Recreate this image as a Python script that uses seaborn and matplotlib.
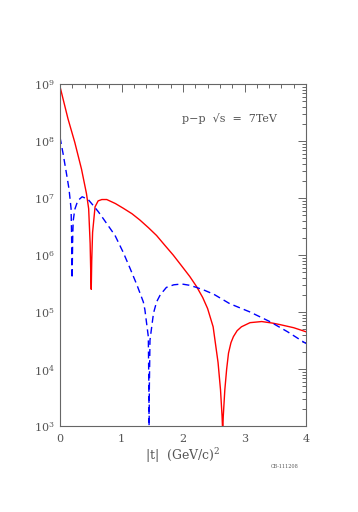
import numpy as np
import pandas as pd
import matplotlib
matplotlib.use("Agg")
import matplotlib.pyplot as plt
import seaborn as sns
from matplotlib.ticker import LogLocator, MultipleLocator, FixedLocator, NullFormatter

# ---- data ----
red_t = [0.0, 0.13, 0.24, 0.35, 0.43, 0.466, 0.49, 0.50, 0.508, 0.516, 0.53, 0.57, 0.62, 0.68,
         0.76, 0.90, 1.03, 1.17, 1.30, 1.44, 1.57, 1.70, 1.84, 1.97, 2.11, 2.22, 2.32, 2.40,
         2.49, 2.57, 2.61, 2.635, 2.645, 2.655, 2.68, 2.71, 2.74, 2.78, 2.82, 2.88, 2.95, 3.09,
         3.28, 3.45, 3.58, 3.80, 4.0]
red_v = [9.0e8, 2.45e8, 9.5e7, 3.2e7, 1.2e7, 6.5e6, 1.6e6, 5.0e5, 2.5e5, 8.0e5, 2.5e6, 7.0e6, 8.9e6, 9.4e6,
         9.4e6, 8.0e6, 6.6e6, 5.3e6, 4.1e6, 3.0e6, 2.2e6, 1.5e6, 1.0e6, 6.6e5, 4.2e5, 2.8e5, 1.8e5, 1.15e5,
         5.5e4, 1.3e4, 4.3e3, 1.5e3, 8.0e2, 1.5e3, 4.3e3, 1.0e4, 1.9e4, 2.9e4, 3.7e4, 4.7e4, 5.5e4, 6.5e4,
         6.8e4, 6.4e4, 6.0e4, 5.3e4, 4.5e4]

blue_t = [0.0, 0.05, 0.10, 0.146, 0.18, 0.188, 0.193, 0.197, 0.201, 0.207, 0.215, 0.24, 0.29, 0.36,
          0.455, 0.54, 0.62, 0.70, 0.895, 1.03, 1.14, 1.25, 1.355, 1.38, 1.436, 1.445, 1.449, 1.453,
          1.463, 1.52, 1.57, 1.63, 1.73, 1.85, 1.98, 2.10, 2.22, 2.35, 2.50, 2.76, 3.09, 3.41,
          3.70, 4.0]
blue_v = [1.17e8, 6.0e7, 2.9e7, 1.45e7, 6.5e6, 2.5e6, 8.0e5, 3.9e5, 8.0e5, 2.2e6, 4.0e6, 6.3e6, 9.0e6, 1.05e7,
          9.5e6, 7.4e6, 5.8e6, 4.4e6, 2.2e6, 1.1e6, 5.8e5, 3.0e5, 1.5e5, 1.1e5, 3.7e4, 5.0e3, 8.0e2, 5.0e3,
          3.2e4, 9.5e4, 1.5e5, 2.0e5, 2.7e5, 3.0e5, 3.1e5, 2.95e5, 2.7e5, 2.4e5, 2.05e5, 1.4e5, 1.0e5, 6.8e4,
          4.5e4, 2.8e4]

x_ticks = [0, 1, 2, 3, 4]
y_decades = [3, 4, 5, 6, 7, 8, 9]

df = pd.concat([
    pd.DataFrame({"t": red_t, "v": red_v, "curve": "red"}),
    pd.DataFrame({"t": blue_t, "v": blue_v, "curve": "blue"}),
])

sns.set_style("white")
plt.rcParams["mathtext.fontset"] = "dejavuserif"
plt.rcParams["font.family"] = ["DejaVu Serif"]

fig = plt.figure(figsize=(3.58, 5.12), dpi=100)
ax = fig.add_axes([60/358, 1-426/512, 246/358, 342/512])

sns.lineplot(data=df[df.curve == "red"], x="t", y="v", color="#ff0000", lw=1.0, ax=ax,
             estimator=None, sort=False)
sns.lineplot(data=df[df.curve == "blue"], x="t", y="v", color="#0000ff", lw=1.0, ax=ax,
             estimator=None, sort=False, linestyle=(0, (5, 3)))

ax.set_yscale("log")
ax.set_xlim(0, 4)
ax.set_ylim(1e3, 1e9)

gray = "#666666"
ax.xaxis.set_major_locator(FixedLocator(x_ticks))
ax.xaxis.set_minor_locator(MultipleLocator(0.2))
ax.set_xticklabels([str(v) for v in x_ticks])
ax.yaxis.set_major_locator(FixedLocator([10.0**d for d in y_decades]))
ax.yaxis.set_minor_locator(LogLocator(base=10, subs=np.arange(2, 10)))
ax.yaxis.set_minor_formatter(NullFormatter())
ax.set_yticklabels([r"$10^{%d}$" % d for d in y_decades])

ax.tick_params(which="both", direction="in", top=True, right=True, colors=gray,
               labelcolor="#555555", labelsize=8, width=0.7)
ax.tick_params(which="major", length=6)
ax.tick_params(which="minor", length=3)
ax.tick_params(axis="x", pad=6)
ax.tick_params(axis="y", pad=4)
for s in ax.spines.values():
    s.set_color(gray)
    s.set_linewidth(0.8)

ax.set_xlabel(r"$|\mathrm{t}|\ \ \mathrm{(GeV/c)^2}$", color="#555555", fontsize=9, labelpad=1)
ax.set_ylabel("")
ax.text(0.69, 0.898, "p\u2212p  \u221as  =  7TeV", transform=ax.transAxes,
        ha="center", va="center", fontsize=8, color="#555555")
fig.text(285/358, 1-466/512, "CB-111208", fontsize=3.5, color="#555555", ha="center", va="center")

fig.savefig("out.png", dpi=100)
